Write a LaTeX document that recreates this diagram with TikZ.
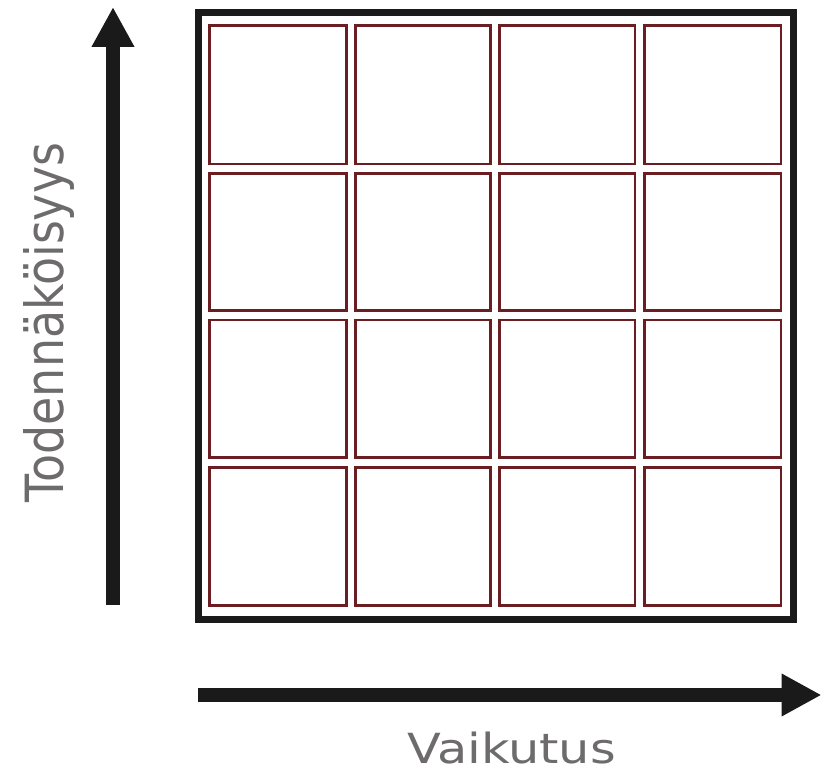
\documentclass[tikz,border=0pt]{standalone}
\usepackage{fontspec}
\setmainfont{DejaVu Sans}
\usetikzlibrary{arrows.meta}
\definecolor{cellred}{HTML}{6B1E22}
\definecolor{framegray}{HTML}{1A1A1A}
\definecolor{labelgray}{HTML}{6D6B6B}
\tikzset{
  cellbox/.style={draw=cellred, line width=2.5pt, inner sep=0pt, fill=white},
  framebox/.style={draw=framegray, line width=7pt},
  axisarrow/.style={draw=framegray, line width=13.5pt, -{Triangle[length=40pt,width=40pt]}},
  axislabel/.style={text=labelgray, inner sep=0pt}
}
\begin{document}
\begin{tikzpicture}[x=1pt,y=-1pt]
\useasboundingbox (0,0) rectangle (822,775);
% outer frame
\draw[framebox] (198.5,12.5) rectangle (793,619);
% grid cells
\def\colL{{209.5,355.5,499.5,644.5}}
\def\colR{{346.5,490.5,635,781}}
\def\rowT{{25.5,173.5,320,467.5}}
\def\rowB{{164,310.5,457.5,605.5}}
\foreach \r in {0,...,3}{
  \foreach \c in {0,...,3}{
    \pgfmathsetmacro{\xl}{\colL[\c]}
    \pgfmathsetmacro{\xr}{\colR[\c]}
    \pgfmathsetmacro{\yt}{\rowT[\r]}
    \pgfmathsetmacro{\yb}{\rowB[\r]}
    \node[cellbox, minimum width=\xr pt-\xl pt, minimum height=\yb pt-\yt pt]
      (cell-\r-\c) at ({(\xl+\xr)/2},{(\yt+\yb)/2}) {};
  }
}
% axes
\coordinate (ystart) at (113,605);
\coordinate (yend) at (113,7);
\coordinate (xstart) at (198.3,695);
\coordinate (xend) at (821.5,695);
\draw[axisarrow] (ystart) -- (yend);
\draw[axisarrow] (xstart) -- (xend);
% labels
\node[axislabel, anchor=base west] (xlabel) at (407,763)
  {\fontsize{41.5pt}{48pt}\selectfont\scalebox{1.19}[1]{Vaikutus}};
\node[axislabel, anchor=base west, rotate=90] (ylabel) at (63.5,503)
  {\fontsize{45pt}{52pt}\selectfont\scalebox{1.02}[1.17]{Todennäköisyys}};
\end{tikzpicture}
\end{document}
